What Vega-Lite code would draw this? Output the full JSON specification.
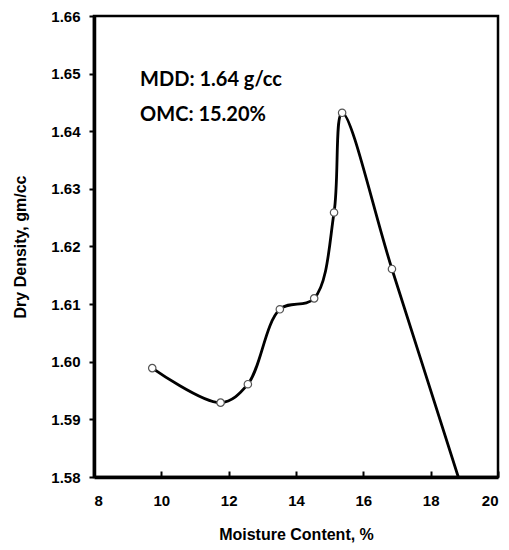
{
  "$schema": "https://vega.github.io/schema/vega-lite/v6.json",
  "autosize": {"type": "none"},
  "padding": {"left": 94, "top": 16, "right": 11, "bottom": 73},
  "width": 404,
  "height": 461,
  "background": "white",
  "config": {
    "view": {"stroke": "black", "strokeWidth": 2.5},
    "axis": {
      "domainColor": "black", "domainWidth": 3.5, "tickColor": "black", "tickWidth": 2,
      "labelFont": "Liberation Sans", "labelFontWeight": "bold", "labelFontSize": 15, "labelColor": "black",
      "titleFont": "Liberation Sans", "titleFontWeight": "bold", "titleFontSize": 16, "titleColor": "black",
      "grid": false
    }
  },
  "datasets": {
    "pts": [
      {"mc": 9.73, "dd": 1.5989},
      {"mc": 11.76, "dd": 1.5929},
      {"mc": 12.57, "dd": 1.5961},
      {"mc": 13.52, "dd": 1.6091},
      {"mc": 14.54, "dd": 1.611},
      {"mc": 15.13, "dd": 1.6259},
      {"mc": 15.37, "dd": 1.6432},
      {"mc": 16.85, "dd": 1.6161}
    ],
    "curve": [
      {"mc": 9.73, "dd": 1.5989},
      {"mc": 11.76, "dd": 1.5929},
      {"mc": 12.57, "dd": 1.5961},
      {"mc": 13.52, "dd": 1.6091},
      {"mc": 14.54, "dd": 1.611},
      {"mc": 15.13, "dd": 1.6259},
      {"mc": 15.37, "dd": 1.6432},
      {"mc": 16.85, "dd": 1.6161},
      {"mc": 18.82, "dd": 1.58}
    ],
    "notes": [
      {"mc": 9.37, "dd": 1.6489, "label": "MDD: 1.64 g/cc"},
      {"mc": 9.37, "dd": 1.6428, "label": "OMC: 15.20%"}
    ]
  },
  "encoding": {
    "x": {
      "field": "mc", "type": "quantitative",
      "scale": {"domain": [8, 20], "nice": false, "zero": false},
      "axis": {"title": "Moisture Content, %", "values": [8, 10, 12, 14, 16, 18, 20], "tickSize": -6, "labelPadding": 22, "titlePadding": 18}
    },
    "y": {
      "field": "dd", "type": "quantitative",
      "scale": {"domain": [1.58, 1.66], "nice": false, "zero": false},
      "axis": {"title": "Dry Density, gm/cc", "values": [1.58, 1.59, 1.6, 1.61, 1.62, 1.63, 1.64, 1.65, 1.66], "format": ".2f", "tickSize": 5, "labelPadding": 9, "titlePadding": 22}
    }
  },
  "layer": [
    {
      "data": {"name": "curve"},
      "mark": {"type": "line", "interpolate": "catmull-rom", "color": "black", "strokeWidth": 2.8, "clip": true}
    },
    {
      "data": {"name": "pts"},
      "mark": {"type": "point", "shape": "circle", "filled": true, "fill": "white", "stroke": "#555", "strokeWidth": 1.2, "size": 55, "opacity": 1}
    },
    {
      "data": {"name": "notes"},
      "mark": {"type": "text", "align": "left", "baseline": "middle", "font": "Lato", "fontWeight": "bold", "fontSize": 20, "color": "black"},
      "encoding": {"text": {"field": "label"}}
    }
  ]
}
